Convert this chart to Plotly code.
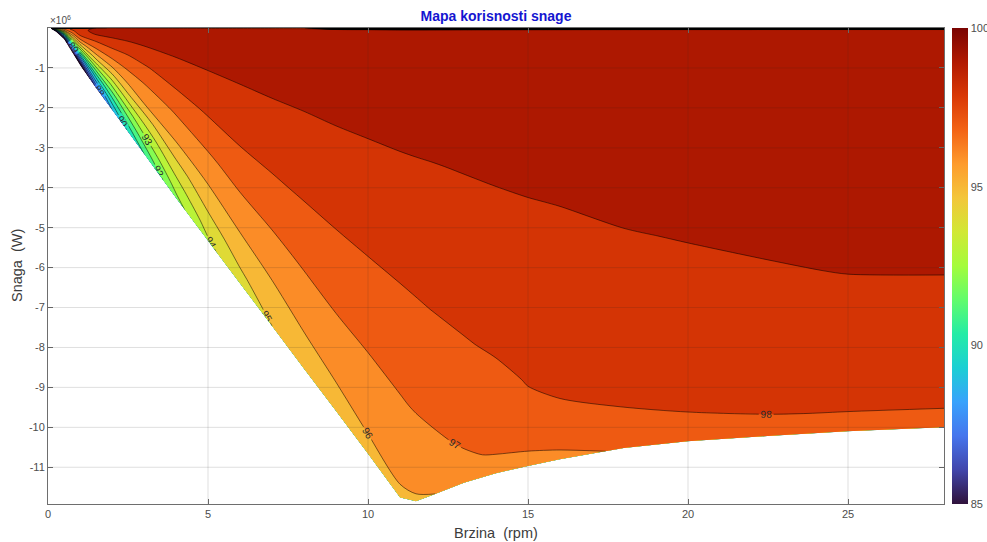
import numpy as np
import plotly.graph_objects as go

# ---------------- data ----------------
# speed columns (rpm)
speed = [0.1, 0.25, 0.5, 1, 1.5, 2, 2.5, 3, 4, 5, 6, 7, 8, 9, 10, 11, 11.5,
         12, 13, 14, 15, 16, 18, 20, 22.5, 25, 28]
# magnitude of the power envelope at each speed (x 1e6 W)
max_power_mw = [0.025, 0.1, 0.28, 0.93, 1.5, 2.05, 2.6, 3.15, 4.26, 5.33, 6.4,
                7.46, 8.53, 9.59, 10.66, 11.76, 11.85, 11.7, 11.39, 11.15,
                10.97, 10.8, 10.52, 10.35, 10.22, 10.1, 10.0]
# fraction of the envelope (0 = zero power, 1 = envelope)
load_fraction = [0, 0.004, 0.05, 0.1, 0.2, 0.3, 0.4, 0.5, 0.6, 0.7, 0.8, 0.9, 0.95, 1.0]

# efficiency (%) for each speed column, listed over load_fraction
efficiency = [
    [80, 88, 90, 90, 89, 88, 87, 86, 85, 84, 83, 82, 81.5, 81],                                  # 0.1
    [80, 93, 95, 94.5, 93.5, 92, 90.5, 89, 87.5, 86, 84.5, 83, 82, 81],                          # 0.25
    [80, 96.5, 97.5, 97, 96, 94.5, 93, 91.5, 90, 88.5, 87, 85.5, 84.8, 84],                      # 0.5
    [85, 98.5, 98.8, 98.6, 98.0, 97.0, 95.71, 94.17, 92.4, 90.4, 88.4, 86.4, 85.4, 84.4],        # 1
    [97, 99.1, 99.2, 99.1, 98.2, 97.4, 96.44, 95.25, 93.86, 92.17, 90.5, 88.83, 88.0, 87.0],     # 1.5
    [98.5, 99.3, 99.35, 99.15, 98.4, 97.57, 96.8, 95.75, 94.5, 93.14, 91.71, 90.29, 89.63, 89.0],  # 2
    [98.5, 99.35, 99.4, 99.2, 98.48, 97.69, 97.06, 96.36, 95.38, 94.13, 92.75, 91.43, 90.77, 90.1],  # 2.5
    [98.5, 99.4, 99.45, 99.25, 98.67, 97.93, 97.27, 96.63, 96.0, 94.7, 93.57, 92.33, 91.71, 91.0],   # 3
    [98.5, 99.45, 99.5, 99.35, 98.87, 98.34, 97.76, 97.07, 96.47, 95.78, 94.71, 93.74, 93.21, 92.7],  # 4
    [98.5, 99.45, 99.5, 99.35, 99.0, 98.55, 98.09, 97.5, 96.88, 96.25, 95.52, 94.7, 94.26, 93.85],   # 5
    [98.5, 99.45, 99.55, 99.4, 99.08, 98.68, 98.28, 97.83, 97.26, 96.65, 96.0, 95.29, 94.91, 94.45], # 6
    [98.5, 99.45, 99.55, 99.4, 99.14, 98.75, 98.35, 97.95, 97.42, 96.88, 96.29, 95.67, 95.33, 95.0], # 7
    [98.5, 99.45, 99.55, 99.42, 99.17, 98.79, 98.41, 98.04, 97.56, 97.07, 96.53, 95.96, 95.58, 95.2],  # 8
    [80, 99.45, 99.55, 99.45, 99.2, 98.84, 98.47, 98.11, 97.68, 97.23, 96.72, 96.17, 95.83, 95.4],   # 9
    [80, 99.45, 99.55, 99.45, 99.21, 98.86, 98.51, 98.15, 97.74, 97.30, 96.82, 96.29, 96.03, 95.6],  # 10
    [80, 99.45, 99.55, 99.45, 99.22, 98.87, 98.52, 98.17, 97.78, 97.35, 96.91, 96.41, 96.15, 95.8],  # 11
    [80, 99.45, 99.55, 99.45, 99.24, 98.91, 98.58, 98.24, 97.89, 97.48, 97.08, 96.52, 96.22, 95.9],  # 11.5
    [80, 99.45, 99.55, 99.5, 99.27, 98.96, 98.65, 98.34, 98.02, 97.65, 97.27, 96.77, 96.38, 95.98],  # 12
    [80, 99.45, 99.55, 99.5, 99.3, 99.06, 98.78, 98.50, 98.23, 97.93, 97.54, 97.15, 96.85, 96.17],   # 13
    [80, 99.45, 99.55, 99.5, 99.35, 99.14, 98.89, 98.64, 98.39, 98.14, 97.8, 97.34, 97.11, 96.36],   # 14
    [80, 99.45, 99.55, 99.5, 99.4, 99.2, 98.97, 98.74, 98.51, 98.28, 98.05, 97.77, 97.21, 96.55],    # 15
    [80, 99.45, 99.55, 99.5, 99.4, 99.25, 99.03, 98.81, 98.58, 98.36, 98.13, 97.91, 97.33, 96.75],   # 16
    [80, 99.45, 99.55, 99.55, 99.45, 99.35, 99.2, 98.94, 98.71, 98.48, 98.24, 98.01, 97.57, 97.1],   # 18
    [80, 99.45, 99.6, 99.6, 99.5, 99.4, 99.25, 99.05, 98.8, 98.56, 98.32, 98.07, 97.95, 97.3],       # 20
    [80, 99.5, 99.6, 99.6, 99.55, 99.45, 99.3, 99.15, 98.93, 98.66, 98.40, 98.13, 97.99, 97.45],     # 22.5
    [80, 99.5, 99.6, 99.6, 99.55, 99.45, 99.35, 99.2, 99.03, 98.74, 98.45, 98.15, 98.01, 97.55],     # 25
    [80, 99.5, 99.6, 99.6, 99.55, 99.45, 99.35, 99.2, 99.05, 98.78, 98.48, 98.17, 98.02, 97.6],      # 28
]

x_ticks = [0, 5, 10, 15, 20, 25]
y_ticks_mw = [-1, -2, -3, -4, -5, -6, -7, -8, -9, -10, -11]
cbar_ticks = [85, 90, 95, 100]
levels = dict(start=85, end=100, size=1)

# ---------------- colours ----------------
turbo = ['#30123b', '#4145ab', '#4675ed', '#39a2fc', '#1bcfd4', '#24eca6',
         '#61fc6c', '#a4fc3b', '#d1e834', '#f3c63a', '#fe9b2d', '#f36315',
         '#d93806', '#b11901', '#7a0402']


def hex2rgb(h):
    h = h.lstrip('#')
    return [int(h[i:i + 2], 16) for i in (0, 2, 4)]


def turbo_at(t):
    t = min(max(t, 0.0), 1.0)
    pos = t * (len(turbo) - 1)
    i = min(int(np.floor(pos)), len(turbo) - 2)
    fr = pos - i
    c0, c1 = hex2rgb(turbo[i]), hex2rgb(turbo[i + 1])
    c = [round(c0[k] + (c1[k] - c0[k]) * fr) for k in range(3)]
    return 'rgb(%d,%d,%d)' % tuple(c)


# band [k, k+1] gets the colour of its lower level (as in MATLAB contourf)
nlev = int((levels['end'] - levels['start']) / levels['size']) + 1
band_scale = [[0.0, turbo_at(0)]]
for k in range(levels['start'], levels['end']):
    s = (k - levels['start'] + 1) / nlev
    band_scale.append([s, turbo_at((k - levels['start']) / (levels['end'] - levels['start']))])
band_scale.append([1.0, turbo_at(1)])

cont_scale = [[i / (len(turbo) - 1), c] for i, c in enumerate(turbo)]

# ---------------- geometry of the map ----------------
A = np.array(speed)
F = np.array(load_fraction)
P = np.array(max_power_mw) * 1e6
X = np.tile(A, (len(F), 1))
Y = -np.outer(F, P)
Z = np.array(efficiency).T

fig = go.Figure()

hidden_axis = dict(showgrid=False, showline=False, showticklabels='none',
                   startline=False, endline=False, minorgridcount=0,
                   smoothing=0)
fig.add_trace(go.Carpet(a=speed, b=load_fraction, x=X, y=Y, carpet='map',
                        aaxis=hidden_axis, baxis=hidden_axis))

fig.add_trace(go.Contourcarpet(
    a=speed, b=load_fraction, z=Z, carpet='map',
    autocontour=False,
    contours=dict(start=levels['start'], end=levels['end'], size=levels['size'],
                  coloring='fill', showlines=True, showlabels=True,
                  labelfont=dict(size=10, color='#2a2a2a',
                                 family='Liberation Sans, Arial, sans-serif')),
    line=dict(color='rgba(0,0,0,0.85)', width=0.6, smoothing=0.8),
    colorscale=band_scale, showscale=False,
))

# continuous colour bar (as in the reference)
fig.add_trace(go.Heatmap(
    z=[[85, 100]], x=[-50, -49], y=[5e7], zmin=85, zmax=100,
    colorscale=cont_scale, hoverinfo='skip',
    colorbar=dict(x=(952 - 48) / 896, xanchor='left', xpad=0, y=0.5,
                  yanchor='middle', len=1.0, lenmode='fraction', ypad=0,
                  thickness=16, outlinewidth=0, tickvals=cbar_ticks, ticks='',
                  tickfont=dict(size=11, color='#4d4d4d')),
))

axis_col = '#6e6e6e'
fig.update_layout(
    width=987, height=542,
    margin=dict(l=48, r=43, t=28, b=38, autoexpand=False),
    paper_bgcolor='white', plot_bgcolor='white',
    font=dict(family='Liberation Sans, Arial, sans-serif', color='#4d4d4d'),
    showlegend=False,
    title=dict(text='<b>Mapa korisnosti snage</b>', x=0.5, xref='paper',
               xanchor='center', y=1 - 16 / 542, yref='container',
               yanchor='middle', font=dict(size=14, color='#1515d0')),
    xaxis=dict(range=[0, 28], tickvals=x_ticks, showgrid=False, zeroline=False,
               showline=True, linecolor=axis_col, linewidth=1, mirror='ticks',
               ticks='inside', ticklen=5, tickcolor=axis_col,
               tickfont=dict(size=11, color='#4d4d4d')),
    yaxis=dict(range=[-11.92e6, 0], tickvals=[v * 1e6 for v in y_ticks_mw],
               ticktext=[str(v) for v in y_ticks_mw], showgrid=False,
               zeroline=False, showline=True, linecolor=axis_col, linewidth=1,
               mirror='ticks', ticks='inside', ticklen=5, tickcolor=axis_col,
               tickfont=dict(size=11, color='#4d4d4d')),
    annotations=[
        dict(text='Brzina\u00a0 (rpm)', xref='paper', yref='paper', x=0.5,
             y=-(533 - 504) / 476, xanchor='center', yanchor='middle',
             showarrow=False, font=dict(size=14.5, color='#3c3c3c')),
        dict(text='Snaga\u00a0 (W)', xref='paper', yref='paper',
             x=(17 - 48) / 896, y=0.5, xanchor='center', yanchor='middle',
             textangle=-90, showarrow=False,
             font=dict(size=14.5, color='#3c3c3c')),
        dict(text='\u00d710<sup>6</sup>', xref='paper', yref='paper', x=0,
             y=1, xanchor='left', yanchor='bottom', showarrow=False,
             font=dict(size=10, color='#4d4d4d')),
    ],
)

grid = dict(color='rgba(38,38,38,0.15)', width=1)
shapes = []
for gx in x_ticks[1:]:
    shapes.append(dict(type='line', xref='x', yref='paper', x0=gx, x1=gx,
                       y0=0, y1=1, line=grid, layer='above'))
for gy in y_ticks_mw:
    shapes.append(dict(type='line', xref='paper', yref='y', x0=0, x1=1,
                       y0=gy * 1e6, y1=gy * 1e6, line=grid, layer='above'))
fig.update_layout(shapes=shapes)

# remove the default page margin so the figure fills the window exactly
fig.write_html("out.html",
               config={'displayModeBar': False},
               post_script="document.body.style.margin='0';"
                           "document.body.style.overflow='hidden';")
